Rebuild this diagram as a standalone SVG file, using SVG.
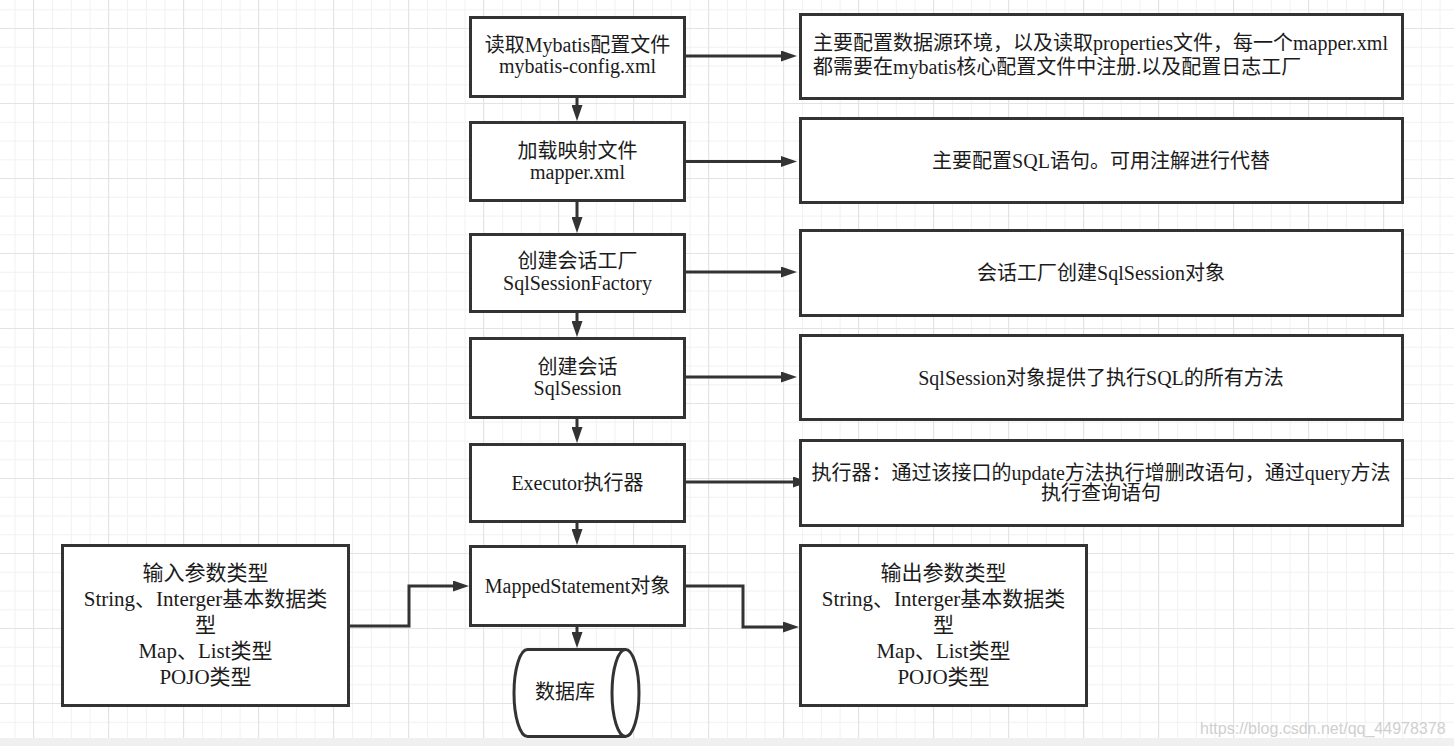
<svg xmlns="http://www.w3.org/2000/svg" width="1454" height="746" viewBox="0 0 1454 746">
<defs>
<pattern id="minor" patternUnits="userSpaceOnUse" x="14.6" y="9.3" width="18.75" height="18.75"><path d="M0 0.5H18.75M0.5 0V18.75" stroke="#f1f1f1" stroke-width="1" fill="none"/></pattern>
<pattern id="major" patternUnits="userSpaceOnUse" x="33" y="28" width="75" height="75"><path d="M0 0.5H75M0.5 0V75" stroke="#e3e3e3" stroke-width="1" fill="none"/></pattern>
<marker id="arr" markerUnits="userSpaceOnUse" markerWidth="16" markerHeight="11" refX="8" refY="5.5" orient="auto"><path d="M0 0L16 5.5L0 11z" fill="#333"/></marker>
</defs>
<style>
.box{fill:#fff;stroke:#333;stroke-width:3}
.t{font-family:'Liberation Serif','Noto Sans CJK SC',serif;font-size:20px;fill:#1b1b1b}
.b{font-size:21px}
.c{text-anchor:middle}
.ln{fill:none;stroke:#333;stroke-width:3;marker-end:url(#arr)}
</style>
<rect width="1454" height="746" fill="#fff"/>
<rect width="1454" height="746" fill="url(#minor)"/>
<rect width="1454" height="746" fill="url(#major)"/>
<rect x="0" y="738" width="1454" height="8" fill="#f0f0f0"/>
<text x="1200" y="734" font-family="'Liberation Sans',sans-serif" font-size="16" fill="#cfcfcf">https://blog.csdn.net/qq_44978378</text>

<g id="connectors">
<path class="ln" d="M686 56H789"/>
<path class="ln" d="M686 161.5H789"/>
<path class="ln" d="M686 272H789"/>
<path class="ln" d="M686 377H789"/>
<path class="ln" d="M686 482H801"/>
<path class="ln" d="M577 98V113"/>
<path class="ln" d="M577 202V225"/>
<path class="ln" d="M577 313V329"/>
<path class="ln" d="M577 419V435"/>
<path class="ln" d="M577 523V537"/>
<path class="ln" d="M577 627V640"/>
<path class="ln" d="M350 626H409V586H461"/>
<path class="ln" d="M686 586H743V627H791"/>
</g>

<g id="n-config">
<rect class="box" x="470.5" y="17.5" width="214" height="79"/>
<text class="t c" x="577.5" y="52">读取Mybatis配置文件</text>
<text class="t c" x="577.5" y="73">mybatis-config.xml</text>
</g>
<g id="n-mapper">
<rect class="box" x="470.5" y="122.5" width="214" height="78"/>
<text class="t c" x="577.5" y="158">加载映射文件</text>
<text class="t c" x="577.5" y="179">mapper.xml</text>
</g>
<g id="n-factory">
<rect class="box" x="470.5" y="234.5" width="214" height="77"/>
<text class="t c" x="577.5" y="268">创建会话工厂</text>
<text class="t c" x="577.5" y="290">SqlSessionFactory</text>
</g>
<g id="n-session">
<rect class="box" x="470.5" y="338.5" width="214" height="79"/>
<text class="t c" x="577.5" y="374">创建会话</text>
<text class="t c" x="577.5" y="395">SqlSession</text>
</g>
<g id="n-executor">
<rect class="box" x="470.5" y="444.5" width="214" height="77"/>
<text class="t c" x="577.5" y="490">Executor执行器</text>
</g>
<g id="n-mapped">
<rect class="box" x="470.5" y="546.5" width="214" height="79"/>
<text class="t c" x="577.5" y="593">MappedStatement对象</text>
</g>
<g id="n-db">
<path d="M527.5 649.5H625.5A13.5 43.5 0 0 1 625.5 736.5H527.5A13.5 43.5 0 0 1 527.5 649.5Z" fill="#fff" stroke="#333" stroke-width="3"/>
<path d="M625.5 649.5A13.5 43.5 0 0 0 625.5 736.5" fill="none" stroke="#333" stroke-width="3"/>
<text class="t c" x="565" y="699">数据库</text>
</g>

<g id="d-config">
<rect class="box" x="800.5" y="14.5" width="602" height="84"/>
<text class="t" x="813" y="50">主要配置数据源环境，以及读取properties文件，每一个mapper.xml</text>
<text class="t" x="813" y="74">都需要在mybatis核心配置文件中注册.以及配置日志工厂</text>
</g>
<g id="d-mapper">
<rect class="box" x="800.5" y="118.5" width="602" height="84"/>
<text class="t c" x="1101" y="168">主要配置SQL语句。可用注解进行代替</text>
</g>
<g id="d-factory">
<rect class="box" x="800.5" y="230.5" width="602" height="85"/>
<text class="t c" x="1101" y="280">会话工厂创建SqlSession对象</text>
</g>
<g id="d-session">
<rect class="box" x="800.5" y="335.5" width="602" height="84"/>
<text class="t c" x="1101" y="385">SqlSession对象提供了执行SQL的所有方法</text>
</g>
<g id="d-executor">
<rect class="box" x="800.5" y="440.5" width="602" height="85"/>
<text class="t c" x="1101" y="480">执行器：通过该接口的update方法执行增删改语句，通过query方法</text>
<text class="t c" x="1101" y="500">执行查询语句</text>
</g>
<g id="n-input">
<rect class="box" x="62.5" y="545.5" width="286" height="160"/>
<text class="t b c" x="205.5" y="580">输入参数类型</text>
<text class="t b c" x="205.5" y="606">String、Interger基本数据类</text>
<text class="t b c" x="205.5" y="632">型</text>
<text class="t b c" x="205.5" y="658">Map、List类型</text>
<text class="t b c" x="205.5" y="684">POJO类型</text>
</g>
<g id="n-output">
<rect class="box" x="800.5" y="545.5" width="286" height="160"/>
<text class="t b c" x="943.5" y="580">输出参数类型</text>
<text class="t b c" x="943.5" y="606">String、Interger基本数据类</text>
<text class="t b c" x="943.5" y="632">型</text>
<text class="t b c" x="943.5" y="658">Map、List类型</text>
<text class="t b c" x="943.5" y="684">POJO类型</text>
</g>
</svg>
